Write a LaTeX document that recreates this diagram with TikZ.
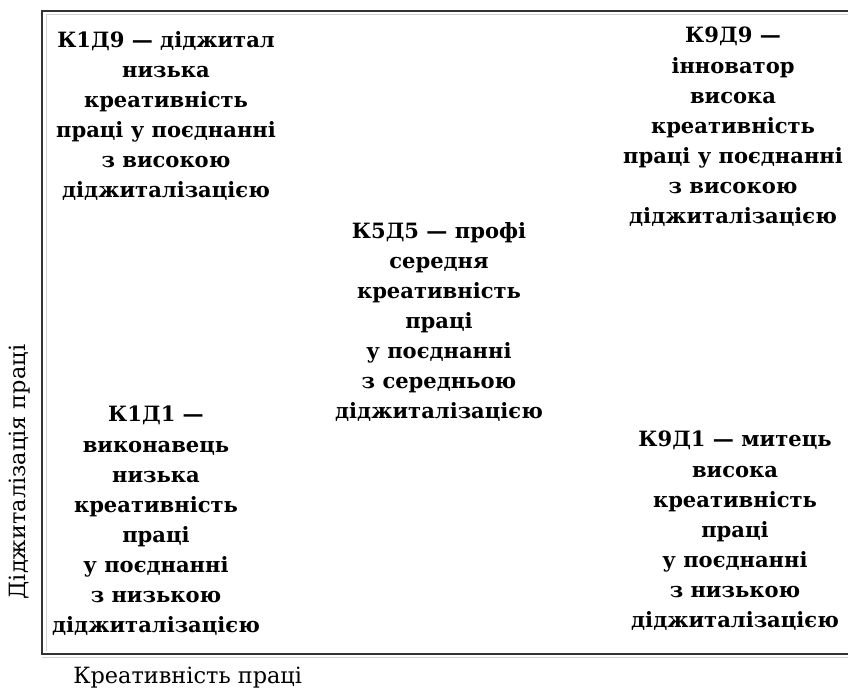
\documentclass[tikz,border=0pt]{standalone}
\usepackage{fontspec}
\setmainfont{DejaVu Serif}
\tikzset{
  typ/.style={align=center, inner sep=0pt, font=\fontsize{15.8}{22.6}\selectfont\bfseries},
  axislabel/.style={inner sep=0pt, font=\fontsize{16.8}{20}\selectfont},
}
\begin{document}
\begin{tikzpicture}[x=0.75pt, y=-0.75pt]
			\useasboundingbox (0, 0) rectangle (848, 688);
			\draw[very thin, gray!35] (46, 14) -- (848, 14);
			\draw[very thin, gray!35] (46, 14) -- (46, 651);
			\draw[very thin, gray!35] (42, 657) -- (848, 657);
			\draw[line width=1.2pt, black!80] (850, 11) -- (42, 11) -- (42, 654) -- (850, 654);
			\node[typ] (k1d9) at (166, 116) {К1Д9 — діджитал\\низька\\креативність\\праці у поєднанні\\з високою\\діджиталізацією};
			\node[typ] (k9d9) at (733, 127) {К9Д9 —\\інноватор\\висока\\креативність\\праці у поєднанні\\з високою\\діджиталізацією};
			\node[typ] (k5d5) at (439, 322) {К5Д5 — профі\\середня\\креативність\\праці\\у поєднанні\\з середньою\\діджиталізацією};
			\node[typ] (k1d1) at (156, 521) {К1Д1 —\\виконавець\\низька\\креативність\\праці\\у поєднанні\\з низькою\\діджиталізацією};
			\node[typ] (k9d1) at (735, 531) {К9Д1 — митець\\висока\\креативність\\праці\\у поєднанні\\з низькою\\діджиталізацією};
			\node[axislabel, rotate=90] (ylab) at (20, 472) {Діджиталізація праці};
			\node[axislabel, anchor=west] (xlab) at (73, 678) {Креативність праці};
		\end{tikzpicture}
\end{document}
